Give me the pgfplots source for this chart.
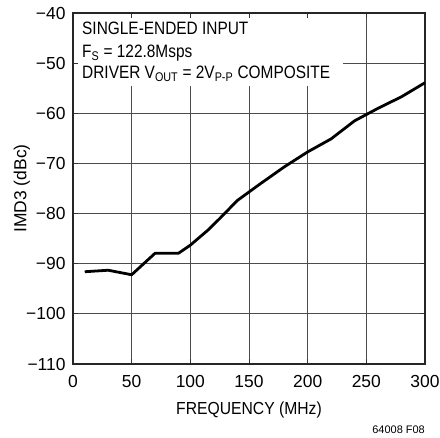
\documentclass[border=0pt]{standalone}
\usepackage{fontspec}
\setmainfont{Liberation Sans}[FakeStretch=0.86]
\newfontfamily\tickfont{Liberation Sans}
\newfontfamily\labelfont{Liberation Sans}[FakeStretch=0.9]
\usepackage{pgfplots}
\pgfplotsset{compat=1.18}
\pgfplotsset{
  chartbase/.style={
    at={(73bp,74bp)}, anchor=south west,
    scale only axis, width=352bp, height=351bp,
    xmin=0, xmax=300, ymin=-110, ymax=-40,
    xtick={0,50,...,300},
    ytick={-110,-100,...,-40},
  },
}

\begin{document}
\begin{tikzpicture}
\useasboundingbox (0bp,0bp) rectangle (440bp,438bp);
% grid only, underneath the text box
\begin{axis}[chartbase,
  grid=major,
  major grid style={black!70, line width=0.9bp},
  axis line style={draw=none},
  major tick length=0pt,
  xticklabels={}, yticklabels={},
]
\end{axis}
% white box behind the annotation
\fill[white] (73.8bp,424.2bp) rectangle (343bp,352bp);
% frame, ticks, labels and the curve
\begin{axis}[chartbase,
  xticklabels={0,50,100,150,200,250,300},
  yticklabels={−110,−100,−90,−80,−70,−60,−50,−40},
  axis line style={black!85, line width=1.6bp},
  tick style={black!80, line width=0.9bp},
  tick align=inside, major tick length=5bp,
  ticklabel style={font=\fontsize{17.5}{20}\tickfont},
  xticklabel style={yshift=-8bp},
  yticklabel style={xshift=-4bp},
  xlabel={FREQUENCY (MHz)},
  xlabel style={at={(axis description cs:0.5,-0.1453)}, anchor=base,
    font=\fontsize{17.5}{20}\labelfont},
  ylabel={IMD3 (dBc)},
  ylabel style={at={(axis description cs:-0.145,0.5)}, anchor=center,
    font=\fontsize{17.5}{20}\tickfont},
]
\addplot[black, line width=2.8bp, line join=round] coordinates {
  (10,-91.6) (30,-91.3) (50,-92.2) (70,-87.9) (90,-87.9) (100,-86.3)
  (115,-83.3) (125,-81.0) (140,-77.4) (160,-74.0) (180,-70.7)
  (200,-67.7) (220,-65.1) (240,-61.5) (260,-59.0) (280,-56.7) (300,-53.9)
};
\end{axis}
\begin{scope}[every node/.style={anchor=base west, inner sep=0,
    font=\fontsize{18}{20}\selectfont}]
  \node at (82bp,403bp) {SINGLE-ENDED INPUT};
  \node at (82bp,380.7bp) {F\textsubscript{S} = 122.8Msps};
  \node at (82bp,359.7bp) {DRIVER V\textsubscript{OUT} = 2V\textsubscript{P-P} COMPOSITE};
\end{scope}
\node[anchor=base east, font=\fontsize{11}{12}\tickfont, inner sep=0]
  at (425bp,5bp) {64008 F08};
\end{tikzpicture}
\end{document}
